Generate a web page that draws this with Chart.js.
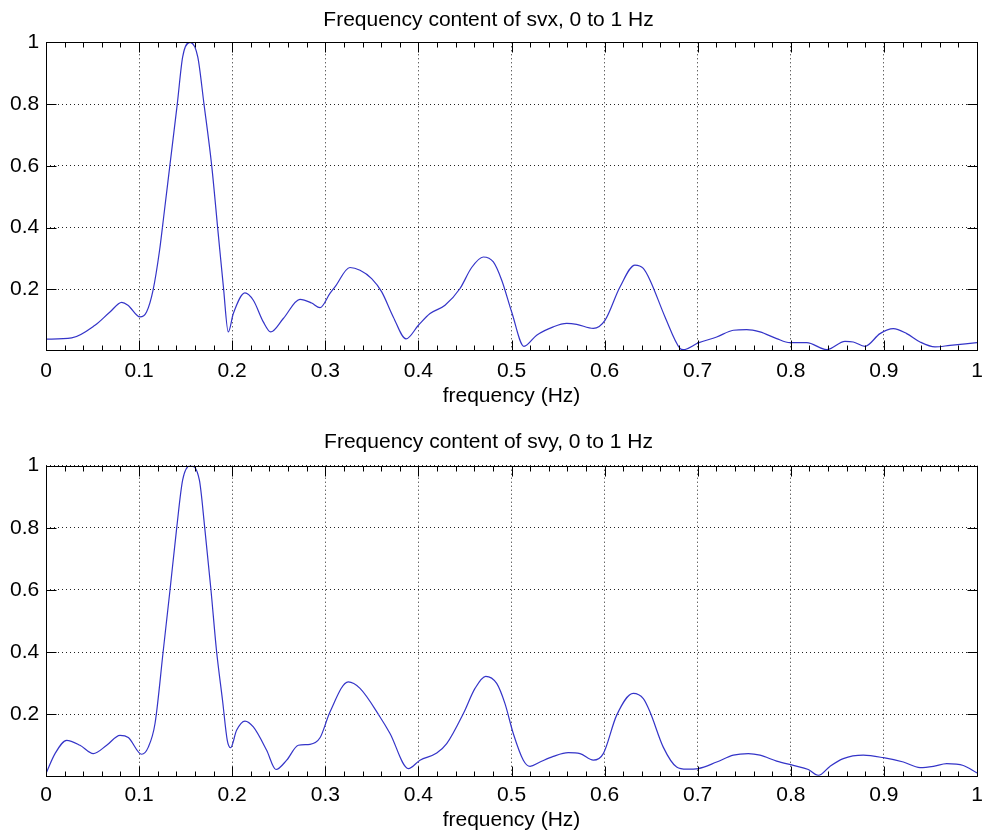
<!DOCTYPE html>
<html>
<head>
<meta charset="utf-8">
<script src="https://cdn.jsdelivr.net/npm/chart.js@4.4.1/dist/chart.umd.min.js"></script>
<style>
  html, body { margin: 0; padding: 0; background: #fff; }
  canvas { position: absolute; left: 0; }
  #chart1 { top: 0; }
  #chart2 { top: 420px; }
</style>
</head>
<body>
<canvas id="chart1" width="982" height="420"></canvas>
<canvas id="chart2" width="982" height="419"></canvas>
<script>
// values
const xTicks = [0, 0.1, 0.2, 0.3, 0.4, 0.5, 0.6, 0.7, 0.8, 0.9, 1];
const yTicks = [0.2, 0.4, 0.6, 0.8, 1];

const svxFreq = [0, 0.0276, 0.0526, 0.0687, 0.0813, 0.088, 0.101, 0.108, 0.115, 0.122, 0.127, 0.133, 0.141, 0.1468, 0.1547, 0.163, 0.1697, 0.178, 0.185, 0.1905, 0.1958, 0.2012, 0.2137, 0.2227, 0.2334, 0.2413, 0.2549, 0.2728, 0.2854, 0.2943, 0.305, 0.3104, 0.3265, 0.3373, 0.3498, 0.3606, 0.373, 0.3867, 0.4, 0.4125, 0.4286, 0.4447, 0.4572, 0.4697, 0.4805, 0.4895, 0.5002, 0.5134, 0.527, 0.5449, 0.5593, 0.57, 0.5879, 0.6004, 0.6165, 0.6326, 0.6416, 0.6488, 0.6649, 0.681, 0.6845, 0.7006, 0.7204, 0.7383, 0.7526, 0.7669, 0.7848, 0.799, 0.8171, 0.8386, 0.8582, 0.8671, 0.8797, 0.8958, 0.9101, 0.9245, 0.9388, 0.9549, 0.971, 1.0];
const svxMag = [0.039, 0.043, 0.084, 0.127, 0.158, 0.149, 0.111, 0.127, 0.198, 0.327, 0.45, 0.6, 0.8, 0.953, 1.0, 0.953, 0.8, 0.6, 0.38, 0.21, 0.0625, 0.122, 0.189, 0.165, 0.095, 0.0625, 0.106, 0.168, 0.156, 0.141, 0.187, 0.208, 0.271, 0.262, 0.235, 0.192, 0.111, 0.04, 0.084, 0.122, 0.149, 0.203, 0.271, 0.305, 0.289, 0.23, 0.127, 0.016, 0.052, 0.079, 0.09, 0.087, 0.074, 0.1, 0.208, 0.279, 0.268, 0.23, 0.111, 0.009, 0.005, 0.027, 0.046, 0.068, 0.07, 0.0625, 0.041, 0.028, 0.028, 0.005, 0.032, 0.030, 0.016, 0.057, 0.073, 0.057, 0.03, 0.014, 0.019, 0.028];

const svyFreq = [0, 0.0097, 0.0222, 0.0365, 0.0508, 0.0652, 0.0795, 0.0884, 0.1028, 0.1099, 0.1171, 0.126, 0.1332, 0.1404, 0.1468, 0.155, 0.1647, 0.1705, 0.1772, 0.1831, 0.1896, 0.1947, 0.1983, 0.2047, 0.2137, 0.2227, 0.237, 0.247, 0.2585, 0.271, 0.2836, 0.2943, 0.305, 0.3247, 0.3373, 0.3588, 0.3695, 0.3892, 0.4017, 0.4197, 0.4304, 0.4483, 0.4608, 0.4723, 0.4841, 0.493, 0.5019, 0.5127, 0.5199, 0.5306, 0.5449, 0.561, 0.5736, 0.5879, 0.5986, 0.613, 0.6308, 0.6416, 0.6488, 0.663, 0.6774, 0.6882, 0.7006, 0.7204, 0.7383, 0.7544, 0.7669, 0.7848, 0.8027, 0.8188, 0.8296, 0.842, 0.8564, 0.8779, 0.8994, 0.9209, 0.9388, 0.9531, 0.9675, 0.9853, 1.0];
const svyMag = [0.009, 0.073, 0.116, 0.1, 0.073, 0.1, 0.132, 0.125, 0.071, 0.094, 0.17, 0.406, 0.6, 0.8, 0.954, 1.0, 0.954, 0.8, 0.6, 0.406, 0.245, 0.116, 0.092, 0.148, 0.178, 0.159, 0.084, 0.022, 0.052, 0.1, 0.103, 0.124, 0.207, 0.304, 0.283, 0.191, 0.138, 0.025, 0.052, 0.075, 0.105, 0.202, 0.283, 0.322, 0.299, 0.234, 0.138, 0.052, 0.032, 0.046, 0.064, 0.076, 0.073, 0.052, 0.073, 0.197, 0.267, 0.25, 0.207, 0.094, 0.03, 0.023, 0.025, 0.046, 0.068, 0.073, 0.068, 0.049, 0.035, 0.022, 0.003, 0.032, 0.057, 0.068, 0.06, 0.046, 0.028, 0.032, 0.041, 0.035, 0.011];

const font = { family: "'Liberation Sans', Arial, sans-serif", size: 21, weight: 'normal' };
const lineColor = '#3434c8';

function fmt(v) {
  if (v === 0) return '0';
  if (v === 1) return '1';
  return v.toFixed(1);
}

// matlab style box with inward ticks
const boxPlugin = {
  id: 'box',
  afterDatasetsDraw(chart) {
    const ctx = chart.ctx;
    const a = chart.chartArea;
    const sx = chart.scales.x, sy = chart.scales.y;
    const l = Math.round(a.left) + 0.5, r = Math.round(a.right) + 0.5;
    const t = Math.round(a.top) + 0.5, b = Math.round(a.bottom) + 0.5;
    ctx.save();
    ctx.strokeStyle = '#000';
    ctx.lineWidth = 1;
    ctx.setLineDash([]);
    ctx.beginPath();
    for (let i = 0; i <= 50; i++) {
      const px = Math.round(sx.getPixelForValue(i / 50)) + 0.5;
      const len = i % 5 === 0 ? 10 : 5;
      ctx.moveTo(px, b); ctx.lineTo(px, b - len);
      ctx.moveTo(px, t); ctx.lineTo(px, t + len);
    }
    yTicks.forEach(v => {
      const py = Math.round(sy.getPixelForValue(v)) + 0.5;
      ctx.moveTo(l, py); ctx.lineTo(l + 10, py);
      ctx.moveTo(r, py); ctx.lineTo(r - 10, py);
    });
    ctx.stroke();
    ctx.strokeRect(l, t, r - l, b - t);
    ctx.restore();
  }
};

function makeChart(id, freq, mag, title, yMin, lay) {
  const points = freq.map((f, i) => ({ x: f, y: mag[i] }));
  return new Chart(document.getElementById(id), {
    type: 'line',
    data: {
      datasets: [{
        data: points,
        borderColor: lineColor,
        borderWidth: 1.2,
        pointRadius: 0,
        fill: false,
        cubicInterpolationMode: 'monotone'
      }]
    },
    options: {
      responsive: false,
      animation: false,
      layout: { padding: { left: 0, right: 5, top: 0, bottom: 0 } },
      plugins: {
        legend: { display: false },
        tooltip: { enabled: false },
        title: {
          display: true,
          text: title,
          color: '#000',
          font: font,
          padding: { top: lay.titleTop, bottom: lay.titleBottom }
        }
      },
      scales: {
        x: {
          type: 'linear',
          min: 0,
          max: 1,
          afterBuildTicks: s => { s.ticks = xTicks.map(v => ({ value: v })); },
          afterFit: s => { s.height = lay.xHeight; s.paddingLeft = 0; s.paddingRight = 0; },
          ticks: { color: '#000', font: font, padding: lay.xPad, maxRotation: 0, autoSkip: false, callback: v => fmt(v) },
          grid: { color: '#222', lineWidth: 1, drawTicks: false },
          border: { display: false, dash: [1, 3] },
          title: { display: true, text: 'frequency (Hz)', color: '#000', font: font, padding: { top: 0, bottom: lay.xTitlePad } }
        },
        y: {
          min: yMin,
          max: 1,
          afterBuildTicks: s => { s.ticks = yTicks.map(v => ({ value: v })); },
          afterFit: s => { s.width = 46; s.paddingTop = 0; s.paddingBottom = 0; },
          ticks: { color: '#000', font: font, padding: 6.7, callback: v => fmt(v) },
          grid: { color: '#222', lineWidth: 1, drawTicks: false },
          border: { display: false, dash: [1, 3] }
        }
      }
    },
    plugins: [boxPlugin]
  });
}

makeChart('chart1', svxFreq, svxMag, 'Frequency content of svx, 0 to 1 Hz', 0.004,
  { titleTop: 7.4, titleBottom: 9.7, xHeight: 70, xPad: 8.3, xTitlePad: 10.9 });
makeChart('chart2', svyFreq, svyMag, 'Frequency content of svy, 0 to 1 Hz', 0.002,
  { titleTop: 9.4, titleBottom: 11.1, xHeight: 63.3, xPad: 6.7, xTitlePad: 5.7 });
</script>
</body>
</html>
